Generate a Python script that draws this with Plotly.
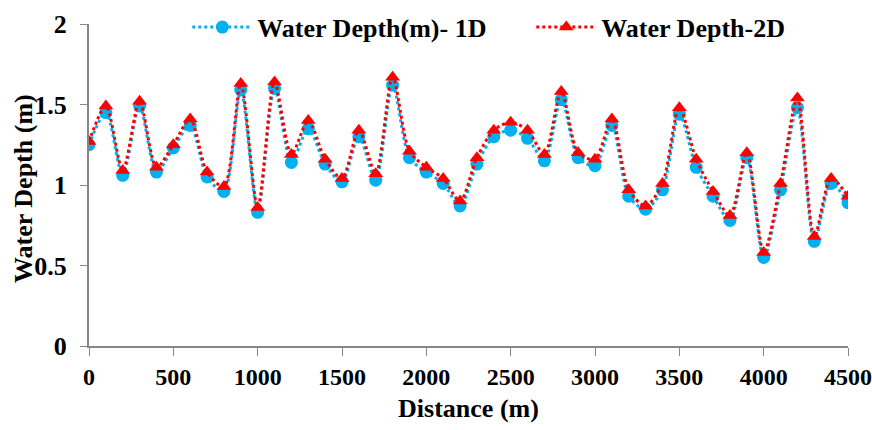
import plotly.graph_objects as go

distance = list(range(0, 4600, 100))
depth_1d = [1.25, 1.45, 1.06, 1.49, 1.08, 1.23, 1.37, 1.05, 0.96, 1.59,
            0.83, 1.60, 1.14, 1.35, 1.13, 1.02, 1.30, 1.03, 1.62, 1.17,
            1.08, 1.01, 0.87, 1.13, 1.30, 1.34, 1.29, 1.15, 1.53, 1.17,
            1.12, 1.37, 0.93, 0.85, 0.97, 1.44, 1.11, 0.93, 0.78, 1.17,
            0.55, 0.97, 1.48, 0.65, 1.01, 0.89]
depth_2d = [1.27, 1.49, 1.09, 1.52, 1.11, 1.25, 1.41, 1.08, 0.99, 1.63,
            0.86, 1.64, 1.19, 1.40, 1.16, 1.04, 1.34, 1.07, 1.67, 1.21,
            1.11, 1.04, 0.90, 1.17, 1.34, 1.39, 1.34, 1.19, 1.58, 1.20,
            1.16, 1.41, 0.97, 0.87, 1.01, 1.48, 1.16, 0.96, 0.81, 1.20,
            0.58, 1.01, 1.54, 0.68, 1.04, 0.93]

x_ticks = [0, 500, 1000, 1500, 2000, 2500, 3000, 3500, 4000, 4500]
y_ticks = [0, 0.5, 1, 1.5, 2]

FONT = "Times New Roman, Liberation Serif, serif"

fig = go.Figure()
fig.add_trace(go.Scatter(
    x=distance, y=depth_1d, name="<b>Water Depth(m)- 1D</b>",
    mode="lines+markers",
    line=dict(color="#00B0F0", width=3, dash="dot", shape="spline", smoothing=0.8),
    marker=dict(symbol="circle", size=13, color="#00B0F0"),
))
fig.add_trace(go.Scatter(
    x=distance, y=depth_2d, name="<b>Water Depth-2D</b>",
    mode="lines+markers",
    line=dict(color="#FF0000", width=3, dash="dot", shape="spline", smoothing=0.8),
    marker=dict(symbol="triangle-up", size=13, color="#FF0000"),
))

fig.update_layout(
    width=872, height=430,
    margin=dict(l=89, r=24, t=24, b=84, autoexpand=False),
    plot_bgcolor="white", paper_bgcolor="white",
    font=dict(family=FONT, size=26, color="black"),
    showlegend=True,
    legend=dict(orientation="h", x=0.1295, y=0.99, xanchor="left", yanchor="middle",
                bgcolor="rgba(0,0,0,0)", font=dict(family=FONT, size=26),
                entrywidth=269, entrywidthmode="pixels", itemwidth=60, tracegroupgap=0),
    xaxis=dict(
        range=[0, 4500], tickvals=x_ticks, ticktext=[f"<b>{v}</b>" for v in x_ticks],
        showgrid=False, zeroline=False, showline=True, linecolor="#868686", linewidth=2,
        ticks="outside", ticklen=8, tickcolor="#868686", tickwidth=1,
        tickfont=dict(family=FONT, size=24), ticklabeloverflow="allow",
        title=dict(text="<b>Distance (m)</b>", font=dict(family=FONT, size=26), standoff=10),
    ),
    yaxis=dict(
        range=[0, 2], tickvals=y_ticks, ticktext=[f"<b>{v:g}</b>" for v in y_ticks],
        showgrid=False, zeroline=False, showline=True, linecolor="#868686", linewidth=2,
        ticks="outside", ticklen=7, tickcolor="#868686", tickwidth=1,
        tickfont=dict(family=FONT, size=26), ticklabeloverflow="allow",
        ticklabelstandoff=8,
    ),
    annotations=[dict(
        text="<b>Water Depth (m)</b>", textangle=-90, showarrow=False,
        xref="paper", yref="paper", x=(23 - 89) / 759, y=(346 - 189) / 322,
        xanchor="center", yanchor="middle", font=dict(family=FONT, size=26),
    )],
)

fig.write_html("out.html")
